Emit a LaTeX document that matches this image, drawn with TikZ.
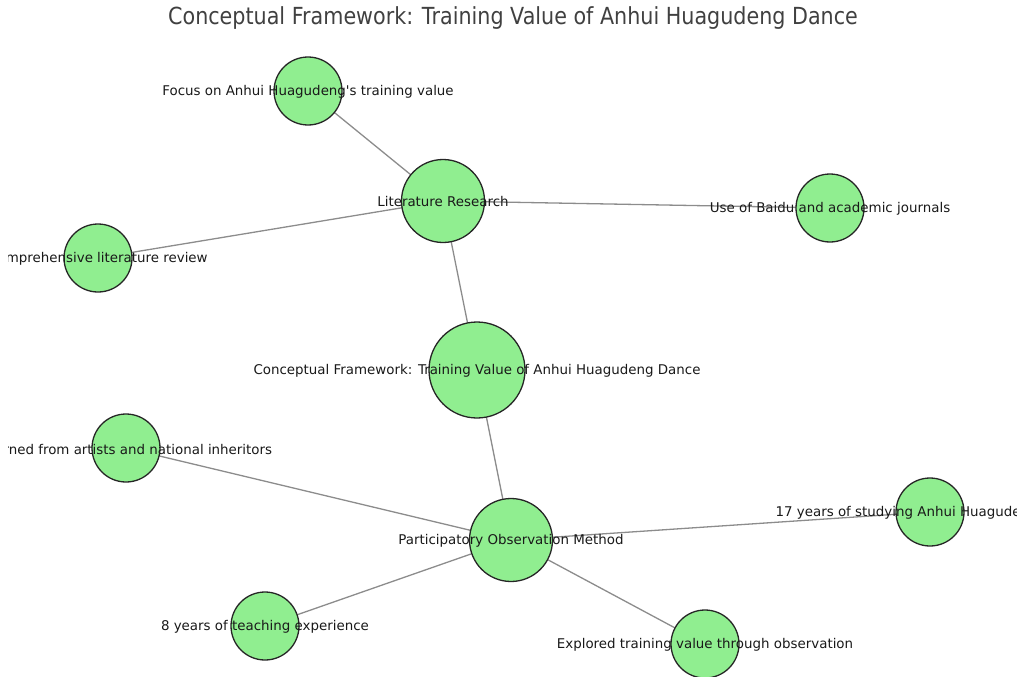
\documentclass[tikz,border=0pt]{standalone}
\usepackage{fontspec}
\setmainfont{DejaVu Sans}
\newfontfamily\titlefont{DejaVu Sans}[FakeStretch=0.88]
\usetikzlibrary{backgrounds}
\definecolor{nodegreen}{RGB}{144,238,144}
\definecolor{edgegray}{RGB}{140,140,140}

\begin{document}
\begin{tikzpicture}
  [x=1pt,y=-1pt,every node/.style={circle,inner sep=0pt},
   vertex/.style={draw=black!85,line width=1.3pt,fill=nodegreen,minimum size=68pt},
   hub/.style={vertex,minimum size=83pt},
   every label/.style={rectangle,inner sep=0pt,yshift=-1pt,font=\fontsize{13.4}{16}\selectfont,text=black!90}]
  \useasboundingbox (0,0) rectangle (1025,677);
  \clip (8,0) rectangle (1016,677);

  \node [rectangle,text=black!75,font=\titlefont\fontsize{23.5}{28}\selectfont] (title) at (513,18) {Conceptual Framework: Training Value of Anhui Huagudeng Dance};

  \node [hub,label={center:Literature Research}] (lr) at (443,201) {};
  \node [vertex,label={center:Focus on Anhui Huagudeng\textquotesingle s training value}] (focus) at (308,91) {};
  \node [vertex,label={center:Use of Baidu and academic journals}] (baidu) at (830,208) {};
  \node [vertex,label={center:Comprehensive literature review}] (review) at (98,258) {};
  \node [vertex,minimum size=96pt,label={center:Conceptual Framework: Training Value of Anhui Huagudeng Dance}] (cf) at (477,370) {};
  \node [hub,label={center:Participatory Observation Method}] (pom) at (511,540) {};
  \node [vertex,label={center:Learned from artists and national inheritors}] (artists) at (126,448) {};
  \node [vertex,label={center:17 years of studying Anhui Huagudeng Dance}] (study) at (930,512) {};
  \node [vertex,label={center:8 years of teaching experience}] (teach) at (265,626) {};
  \node [vertex,label={center:Explored training value through observation}] (explore) at (705,644) {};

  \begin{scope}[on background layer]
  \foreach \from/\to in {lr/focus,lr/baidu,lr/review,lr/cf,cf/pom,pom/artists,pom/study,pom/teach,pom/explore}
    \draw [edgegray,line width=1.3pt] (\from.center) -- (\to.center);
  \end{scope}

\end{tikzpicture}
\end{document}
